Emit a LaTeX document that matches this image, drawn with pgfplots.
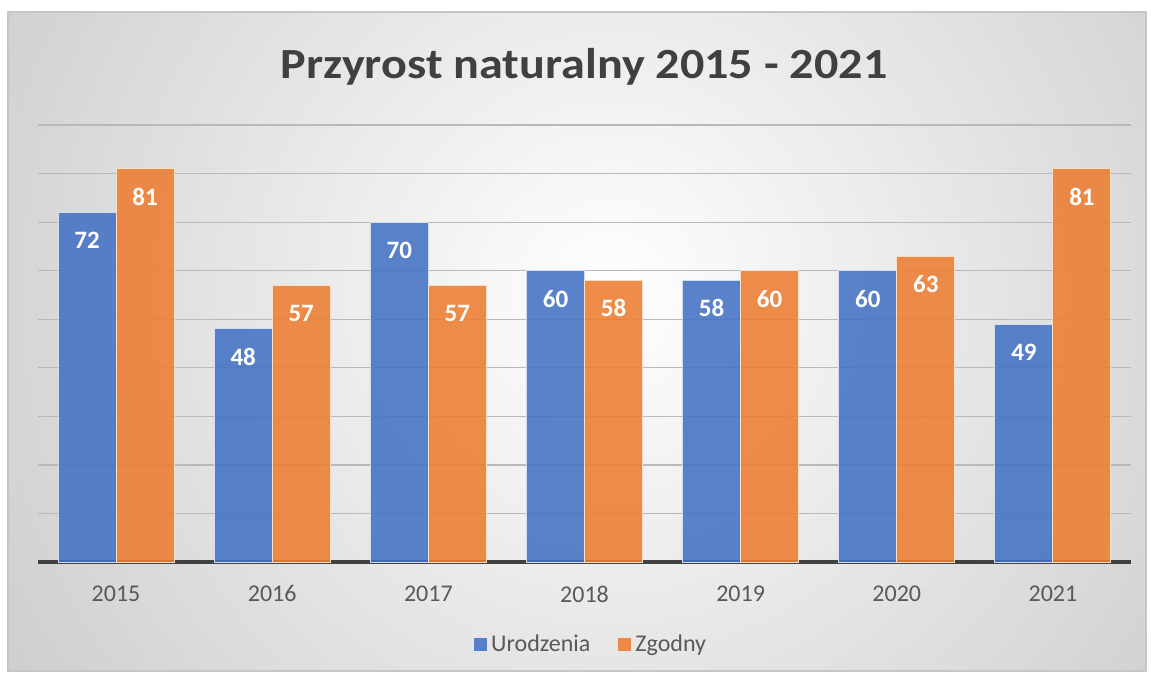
\documentclass[border=0pt]{standalone}
\usepackage{pgfplots}
\pgfplotsset{compat=1.18}
\usepackage{fontspec}
\setmainfont{Carlito}
\definecolor{ublue}{HTML}{4472C4}
\definecolor{zorange}{HTML}{ED7D31}
\definecolor{txt}{HTML}{595959}
\definecolor{ttl}{HTML}{404040}

\begin{document}
\begin{tikzpicture}
% 1 px of the reference = 0.5pt
\fill[white] (0,0) rectangle (575.5pt,338.5pt);
\fill[gray!40] (4pt,3pt) rectangle (573pt,332.5pt);
\begin{scope}
  \clip (4pt,3pt) rectangle (573pt,332.5pt);
  \shade[inner color=white, outer color=gray!40] (305pt,190pt) circle (370pt);
\end{scope}
\draw[gray!45, line width=0.6pt] (4pt,3pt) rectangle (573pt,332.5pt);

\node[font=\bfseries\fontsize{21.5}{25}\selectfont, text=ttl] at (292pt,305pt)
  {\scalebox{1.12}[1]{Przyrost naturalny 2015 - 2021}};

\begin{axis}[
  at={(19pt,57.5pt)}, anchor=south west,
  scale only axis,
  width=546.5pt, height=218.5pt,
  ybar=0pt, bar width=29pt,
  xmin=-0.5, xmax=6.5,
  ymin=0, ymax=90,
  xtick=data,
  xticklabels={2015,2016,2017,2018,2019,2020,2021},
  ytick={10,20,...,90},
  yticklabels={},
  ymajorgrids,
  grid style={gray!55, line width=0.6pt},
  separate axis lines,
  axis x line*=bottom,
  axis y line*=left,
  y axis line style={draw=none},
  x axis line style={draw=ttl, line width=1.6pt, -},
  tick style={draw=none},
  xticklabel style={font=\fontsize{12}{14}\selectfont, text=txt, yshift=-4pt},
  /pgf/number format/assume math mode=true,
  nodes near coords,
  every node near coord/.append style={anchor=center, yshift=-14pt, text=white, font=\bfseries\fontsize{12.5}{14}\selectfont},
  legend style={at={(0.507,-0.19)}, anchor=center, legend columns=2, draw=none, fill=none,
    font=\fontsize{12}{14}\selectfont, text=txt,
    /tikz/every even column/.append style={column sep=12pt}},
  legend image code/.code={\fill[#1, draw=none] (-1pt,-3.2pt) rectangle (5.5pt,3.3pt);},
]
\addplot[fill=ublue, fill opacity=0.88, draw=white!75!ublue, line width=0.5pt, text opacity=1] coordinates {
  (0,72) (1,48) (2,70) (3,60) (4,58) (5,60) (6,49)
};
\addplot[fill=zorange, fill opacity=0.88, draw=white!75!zorange, line width=0.5pt, text opacity=1] coordinates {
  (0,81) (1,57) (2,57) (3,58) (4,60) (5,63) (6,81)
};
\legend{Urodzenia, Zgodny}
\end{axis}
\end{tikzpicture}
\end{document}
